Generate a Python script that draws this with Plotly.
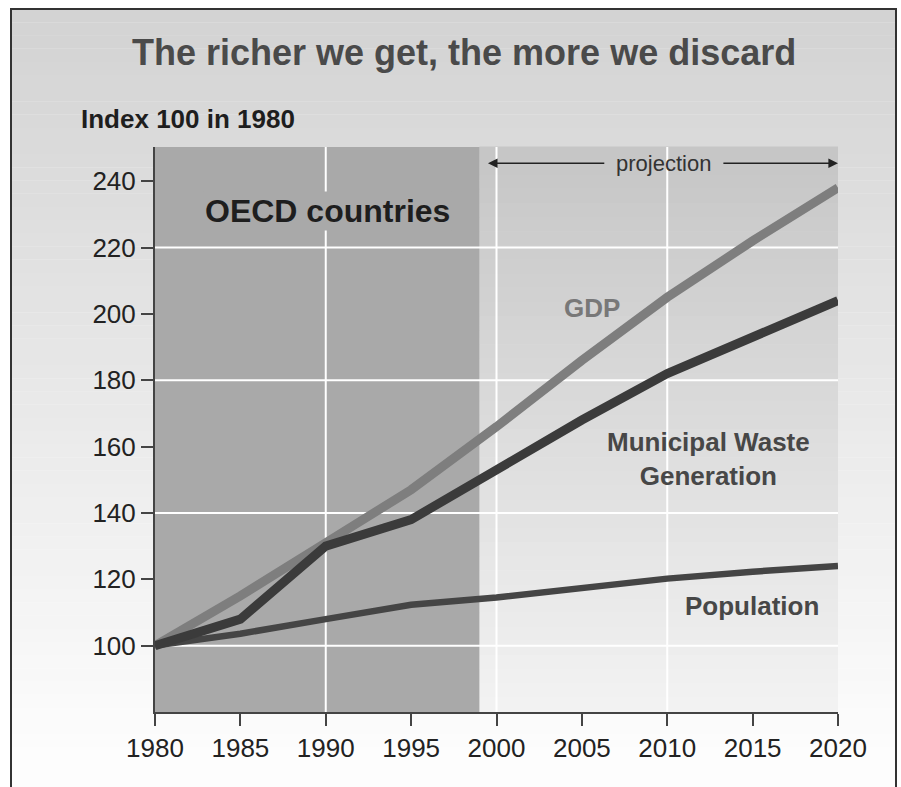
import plotly.graph_objects as go

# ---------------- data ----------------
years = [1980, 1985, 1990, 1995, 2000, 2005, 2010, 2015, 2020]
gdp = [100, 115, 131, 147, 166, 186, 205, 222, 238]
waste = [100, 108, 130, 138, 153, 168, 182, 193, 204]
population = [100, 103.6, 108, 112.3, 114.5, 117.3, 120.2, 122.3, 124]

y_ticks = [100, 120, 140, 160, 180, 200, 220, 240]
x_ticks = [1980, 1985, 1990, 1995, 2000, 2005, 2010, 2015, 2020]
grid_y = [100, 140, 180, 220]
grid_x = [1990, 2000, 2010]
history_start = 1980
history_end = 1999
projection_end = 2020

# ---------------- layout geometry ----------------
W, H = 901, 787
ML, MR, MT, MB = 155, 63, 147, 75
PW, PH = W - ML - MR, H - MT - MB


def px(x):
    return (x - ML) / PW


def py(y):
    return (H - MB - y) / PH


def grey(v):
    v = int(round(v))
    return f"rgb({v},{v},{v})"


FONT = "Liberation Sans, Arial, sans-serif"

fig = go.Figure()

fig.add_trace(go.Scatter(x=years, y=gdp, mode="lines", name="GDP",
                         line=dict(color="#7e7e7e", width=9)))
fig.add_trace(go.Scatter(x=years, y=population, mode="lines", name="Population",
                         line=dict(color="#454545", width=6.5)))
fig.add_trace(go.Scatter(x=years, y=waste, mode="lines", name="Municipal Waste Generation",
                         line=dict(color="#3b3b3b", width=9)))

shapes = []
# paper gradient background inside border
N = 60
top, bot = 9, 800
for i in range(N):
    y0 = top + (bot - top) * i / N
    y1 = top + (bot - top) * (i + 1) / N
    t = i / (N - 1)
    c = 0xd3 + (0xfd - 0xd3) * min(1, t * 1.05)
    shapes.append(dict(type="rect", xref="paper", yref="paper", layer="below",
                       x0=px(11), x1=px(896), y0=py(y0), y1=py(y1) - 0.0005,
                       fillcolor=grey(c), line=dict(width=0)))
# projection gradient
M = 40
for i in range(M):
    t = i / (M - 1)
    c = 0xc6 + (0xf2 - 0xc6) * t
    shapes.append(dict(type="rect", xref="x", yref="y domain", layer="below",
                       x0=history_end, x1=projection_end,
                       y0=1 - (i + 1) / M, y1=1 - i / M + 0.001,
                       fillcolor=grey(c), line=dict(width=0)))
# historical dark region
shapes.append(dict(type="rect", xref="x", yref="y domain", layer="below",
                   x0=history_start, x1=history_end, y0=0, y1=1,
                   fillcolor="#a9a9a9", line=dict(width=0)))
# gridlines
for g in grid_y:
    shapes.append(dict(type="line", xref="x", yref="y", layer="below",
                       x0=history_start, x1=projection_end, y0=g, y1=g,
                       line=dict(color="white", width=2)))
for g in grid_x:
    shapes.append(dict(type="line", xref="x", yref="y domain", layer="below",
                       x0=g, x1=g, y0=0, y1=1,
                       line=dict(color="white", width=2)))
# frame border
shapes.append(dict(type="rect", xref="paper", yref="paper", layer="above",
                   x0=px(11), x1=px(896), y0=py(820), y1=py(9),
                   line=dict(color="#333333", width=2), fillcolor="rgba(0,0,0,0)"))

annotations = [
    dict(text="<b>The richer we get, the more we discard</b>", xref="paper", yref="paper",
         x=px(464), y=py(53), xanchor="center", yanchor="middle", showarrow=False,
         font=dict(family=FONT, size=36, color="#4a4a4a")),
    dict(text="<b>Index 100 in 1980</b>", xref="paper", yref="paper",
         x=px(79), y=py(119), xanchor="left", yanchor="middle", showarrow=False,
         font=dict(family=FONT, size=26, color="#1e1e1e")),
    dict(text="<b>OECD countries</b>", xref="x", yref="y", x=1990.1, y=231,
         xanchor="center", yanchor="middle", showarrow=False, bgcolor="#a9a9a9",
         font=dict(family=FONT, size=32, color="#1e1e1e")),
    dict(text="<b>GDP</b>", xref="x", yref="y", x=2005.6, y=201.7,
         xanchor="center", yanchor="middle", showarrow=False,
         font=dict(family=FONT, size=26, color="#787878")),
    dict(text="<b>Municipal Waste<br>Generation</b>", xref="x", yref="y", x=2012.4, y=156.4,
         xanchor="center", yanchor="middle", showarrow=False,
         font=dict(family=FONT, size=26, color="#474747")),
    dict(text="<b>Population</b>", xref="x", yref="y", x=2014.95, y=112.1,
         xanchor="center", yanchor="middle", showarrow=False,
         font=dict(family=FONT, size=26, color="#474747")),
    dict(text="projection", xref="x", yref="y", x=2009.8, y=245.4,
         xanchor="center", yanchor="middle", showarrow=False,
         font=dict(family=FONT, size=22, color="#333333")),
    dict(text="", xref="x", yref="y", x=1999.5, y=245.4, ax=2006.4, ay=245.4,
         axref="x", ayref="y", showarrow=True, arrowhead=2, arrowsize=1.2,
         arrowwidth=1.6, arrowcolor="#222222", standoff=0, startstandoff=0),
    dict(text="", xref="x", yref="y", x=2020, y=245.4, ax=2013.2, ay=245.4,
         axref="x", ayref="y", showarrow=True, arrowhead=2, arrowsize=1.2,
         arrowwidth=1.6, arrowcolor="#222222", standoff=0, startstandoff=0),
]

fig.update_layout(
    width=W, height=H,
    margin=dict(l=ML, r=MR, t=MT, b=MB, autoexpand=False),
    paper_bgcolor="white",
    plot_bgcolor="rgba(0,0,0,0)",
    showlegend=False,
    shapes=shapes,
    annotations=annotations,
    font=dict(family=FONT, color="#222222"),
    xaxis=dict(range=[1980, 2020], tickvals=x_ticks, ticktext=[str(v) for v in x_ticks],
               showgrid=False, zeroline=False, showline=True, linecolor="#444444", linewidth=2,
               ticks="outside", ticklen=12, tickwidth=2, tickcolor="#444444",
               tickfont=dict(family=FONT, size=26, color="#222222")),
    yaxis=dict(range=[80, 250.3], tickvals=y_ticks, ticktext=[str(v) for v in y_ticks],
               showgrid=False, zeroline=False, showline=True, linecolor="#444444", linewidth=2,
               ticks="outside", ticklen=12, tickwidth=2, tickcolor="#444444",
               tickfont=dict(family=FONT, size=26, color="#222222")),
)

fig.write_html("out.html")
